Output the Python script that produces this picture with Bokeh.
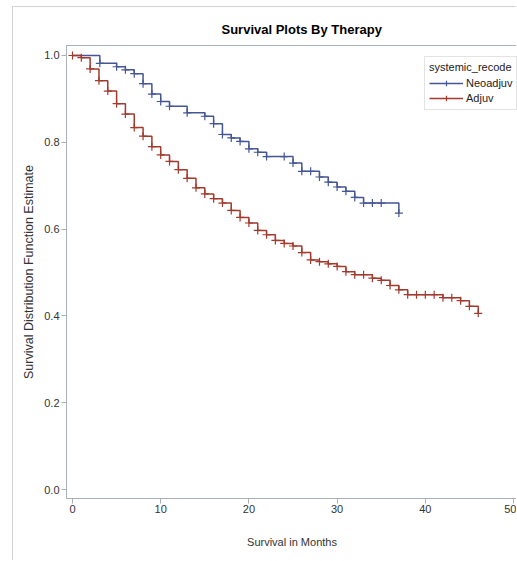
from bokeh.plotting import figure
from bokeh.models import Range1d, FixedTicker, Legend, LegendItem, NumeralTickFormatter
from bokeh.embed import file_html
from bokeh.resources import INLINE
import numpy as np

# Neoadjuv (blue) step curve: event times and survival after each step
neo_t = [0, 3.1, 5, 6, 7, 8, 9, 10, 11, 13, 15, 16, 17, 18, 19, 20, 21, 22, 25, 26, 28, 29, 30, 31, 32, 33, 37]
neo_s = [1.0, 0.982, 0.974, 0.967, 0.958, 0.935, 0.911, 0.894, 0.883, 0.868, 0.860, 0.843, 0.818, 0.810,
         0.802, 0.785, 0.777, 0.767, 0.752, 0.733, 0.720, 0.708, 0.697, 0.687, 0.673, 0.660, 0.637]
neo_cens = [3.1, 5, 6, 7, 8, 9, 10, 11, 13, 15, 16, 17, 18, 19, 20, 21, 22, 24, 25, 26, 27, 28, 29, 30,
            31, 32, 33, 34, 35, 37]

# Adjuv (red)
adj_t = [0, 1, 2, 3, 4, 5, 6, 7, 8, 9, 10, 11, 12, 13, 14, 15, 16, 17, 18, 19, 20, 21, 22, 23, 24, 25,
         26, 27, 28, 29, 30, 31, 32, 34, 35, 36, 37, 38, 42, 44, 45, 46]
adj_s = [1.0, 0.995, 0.969, 0.942, 0.918, 0.889, 0.865, 0.834, 0.814, 0.790, 0.771, 0.756, 0.737, 0.717,
         0.695, 0.681, 0.670, 0.660, 0.643, 0.627, 0.614, 0.597, 0.587, 0.574, 0.567, 0.561, 0.546, 0.529,
         0.525, 0.520, 0.514, 0.502, 0.495, 0.487, 0.482, 0.470, 0.460, 0.449, 0.442, 0.435, 0.422, 0.406]
adj_cens = [0, 1, 2, 3, 4, 5, 6, 7, 8, 9, 10, 11, 12, 13, 14, 15, 16, 17, 18, 19, 20, 21, 22, 23, 24, 25,
            26, 27, 28, 29, 30, 31, 32, 33, 34, 35, 36, 37, 38, 39, 40, 41, 42, 43, 44, 45, 46]

x_ticks = [0, 10, 20, 30, 40, 50]
y_ticks = [0.0, 0.2, 0.4, 0.6, 0.8, 1.0]

BLUE = "#445694"
RED = "#A23A2E"
FONT = "Liberation Sans"
AXIS = "#a9b0b6"


def surv_at(ts, ss, c):
    idx = np.searchsorted(np.array(ts), c, side="right") - 1
    return [ss[i] for i in idx]


p = figure(width=504, height=554, output_backend="svg", toolbar_location=None,
           x_range=Range1d(-0.68, 50.45), y_range=Range1d(-0.0207, 1.023),
           title="Survival Plots By Therapy")
p.margin = (6, 0, 0, 12)
p.styles = {"border-left": "1px solid #d3d3d3", "border-top": "1px solid #d3d3d3"}
p.min_border_left = 53
p.min_border_right = 0
p.min_border_bottom = 63
p.min_border_top = 38
p.background_fill_color = "white"
p.border_fill_color = "white"
p.outline_line_color = AXIS
p.grid.visible = False

p.title.align = "left"
p.title.offset = 155
p.title.text_font = FONT
p.title.text_font_size = "13px"
p.title.text_font_style = "bold"
p.title.text_color = "#000000"
p.title.standoff = 17

for ax in (p.xaxis[0], p.yaxis[0]):
    ax.axis_line_color = AXIS
    ax.major_tick_line_color = AXIS
    ax.minor_tick_line_color = None
    ax.major_tick_out = 5
    ax.major_tick_in = 0
    ax.major_label_text_font = FONT
    ax.major_label_text_font_size = "11px"
    ax.major_label_text_color = "#333333"
    ax.axis_label_text_font = FONT
    ax.axis_label_text_font_style = "normal"
    ax.axis_label_text_color = "#333333"

p.xaxis.axis_label_text_font_size = "11px"
p.yaxis.axis_label_text_font_size = "12.5px"
p.xaxis.ticker = FixedTicker(ticks=x_ticks)
p.yaxis.ticker = FixedTicker(ticks=y_ticks)
p.yaxis.formatter = NumeralTickFormatter(format="0.0")
p.xaxis.axis_label = "Survival in Months"
p.yaxis.axis_label = "Survival Distribution Function Estimate"
p.xaxis.major_label_standoff = 1
p.xaxis.axis_label_standoff = 20
p.yaxis.major_label_standoff = 2
p.yaxis.axis_label_standoff = 5

l1 = p.step(neo_t, neo_s, mode="after", line_color=BLUE, line_width=1.5)
m1 = p.scatter(neo_cens, surv_at(neo_t, neo_s, neo_cens), marker="cross", size=8,
               line_color=BLUE, line_width=1.2)
l2 = p.step(adj_t, adj_s, mode="after", line_color=RED, line_width=1.5)
m2 = p.scatter(adj_cens, surv_at(adj_t, adj_s, adj_cens), marker="cross", size=8,
               line_color=RED, line_width=1.2)

legend = Legend(items=[LegendItem(label="Neoadjuv", renderers=[l1, m1]),
                       LegendItem(label="Adjuv", renderers=[l2, m2])],
                location=(358, 388), title="systemic_recode")
legend.title_text_font = FONT
legend.title_text_font_size = "11px"
legend.title_text_font_style = "normal"
legend.title_text_color = "#222222"
legend.label_text_font = FONT
legend.label_text_font_size = "11px"
legend.label_text_color = "#222222"
legend.border_line_color = "#c8c8c8"
legend.glyph_width = 34
legend.glyph_height = 14
legend.label_height = 14
legend.spacing = 1
legend.padding = 4
legend.margin = 0
legend.label_standoff = 3
legend.title_standoff = 3
p.add_layout(legend)

open("out.html", "w").write(file_html(p, INLINE))
